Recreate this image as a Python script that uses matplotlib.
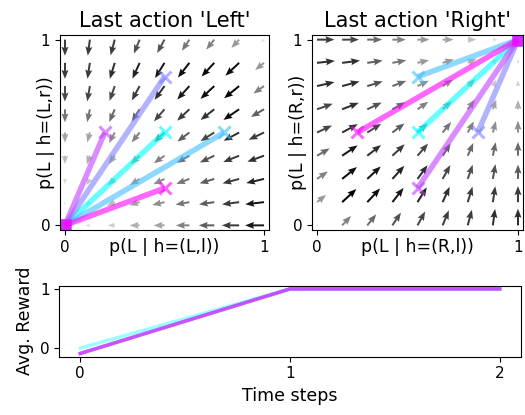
import matplotlib
matplotlib.use('Agg')
import matplotlib.pyplot as plt
import numpy as np

# grid of the two policy planes (9 x 9 arrows)
grid = np.linspace(0, 1, 9)

# arrow directions in degrees, rows listed from top (y=1) to bottom (y=0)
left_angle = [
    [270, 263, 256, 249, 243, 238, 233, 229, 225],
    [270, 262, 254, 247, 240, 234, 229, 225, 221],
    [270, 261, 252, 243, 236, 230, 225, 221, 217],
    [270, 259, 248, 239, 231, 225, 220, 216, 212],
    [270, 256, 243, 233, 225, 219, 214, 210, 207],
    [270, 252, 236, 225, 217, 211, 207, 203, 201],
    [270, 243, 225, 214, 207, 202, 198, 196, 194],
    [270, 225, 207, 198, 194, 191, 189, 188, 187],
    [225, 180, 180, 180, 180, 180, 180, 180, 180],
]
right_angle = [
    [0, 0, 0, 0, 0, 0, 0, 0, 45],
    [7, 8, 9, 11, 14, 18, 27, 45, 90],
    [14, 16, 18, 22, 27, 34, 45, 63, 90],
    [21, 23, 27, 31, 37, 45, 56, 72, 90],
    [27, 30, 34, 39, 45, 53, 63, 76, 90],
    [32, 36, 40, 45, 51, 59, 68, 79, 90],
    [37, 41, 45, 50, 56, 63, 72, 81, 90],
    [41, 45, 49, 54, 60, 67, 74, 82, 90],
    [45, 49, 53, 58, 63, 69, 76, 83, 90],
]

# relative strength of the flow (0 = none, 1 = strongest)
left_mag = [
    [0.75, 0.75, 0.75, 0.65, 0.65, 0.50, 0.45, 0.35, 0.05],
    [0.75, 0.75, 0.80, 0.85, 0.90, 0.95, 0.95, 0.95, 0.35],
    [0.70, 0.70, 0.70, 0.75, 0.80, 0.90, 0.95, 1.00, 0.45],
    [0.50, 0.50, 0.55, 0.60, 0.70, 0.75, 0.80, 0.95, 0.60],
    [0.30, 0.30, 0.40, 0.45, 0.55, 0.60, 0.70, 0.80, 0.75],
    [0.20, 0.25, 0.30, 0.40, 0.45, 0.55, 0.65, 0.75, 0.80],
    [0.08, 0.15, 0.25, 0.35, 0.40, 0.50, 0.60, 0.75, 0.85],
    [0.03, 0.08, 0.20, 0.30, 0.40, 0.50, 0.60, 0.75, 0.90],
    [0.00, 0.05, 0.12, 0.25, 0.30, 0.45, 0.60, 0.75, 0.90],
]
right_mag = [
    [0.75, 0.70, 0.55, 0.45, 0.35, 0.30, 0.18, 0.06, 0.00],
    [0.80, 0.80, 0.60, 0.50, 0.35, 0.35, 0.25, 0.10, 0.05],
    [0.80, 0.80, 0.65, 0.55, 0.40, 0.40, 0.30, 0.15, 0.10],
    [0.70, 0.80, 0.65, 0.55, 0.45, 0.40, 0.40, 0.30, 0.25],
    [0.70, 0.80, 0.70, 0.60, 0.50, 0.50, 0.45, 0.40, 0.40],
    [0.55, 0.90, 0.80, 0.75, 0.70, 0.60, 0.55, 0.55, 0.55],
    [0.45, 0.95, 0.90, 0.85, 0.80, 0.70, 0.65, 0.65, 0.60],
    [0.35, 1.00, 0.95, 0.90, 0.85, 0.80, 0.75, 0.75, 0.75],
    [0.00, 0.45, 0.55, 0.65, 0.70, 0.75, 0.75, 0.80, 0.80],
]

# learning trajectories, time steps 0,1,2
steps = [0, 1, 2]
left_x = [[0.5, 0, 0], [0.8, 0, 0], [0.5, 0, 0], [0.2, 0, 0], [0.5, 0, 0]]
left_y = [[0.5, 0, 0], [0.5, 0, 0], [0.8, 0, 0], [0.5, 0, 0], [0.2, 0, 0]]
right_x = [[0.5, 1, 1], [0.5, 1, 1], [0.8, 1, 1], [0.5, 1, 1], [0.2, 1, 1]]
right_y = [[0.5, 1, 1], [0.8, 1, 1], [0.5, 1, 1], [0.2, 1, 1], [0.5, 1, 1]]
rewards = [[0.0, 1, 1], [-0.09, 1, 1], [-0.09, 1, 1], [-0.09, 1, 1], [-0.09, 1, 1]]

colors = plt.cm.cool(np.linspace(0, 1, len(left_x)))

W, H = 525., 415.
fig = plt.figure(figsize=(W / 100, H / 100), dpi=100)
axL = fig.add_axes([60 / W, 1 - 230 / H, 209 / W, 195 / H])
axR = fig.add_axes([312 / W, 1 - 230 / H, 211 / W, 195 / H])
axB = fig.add_axes([59.3 / W, 1 - 356.7 / H, 461.4 / W, 71 / H])

X, Y = np.meshgrid(grid, grid)


def flow(ax, ang, mag):
    ang = np.radians(np.array(ang)[::-1])
    mag = np.array(mag)[::-1]
    ln = np.sqrt(mag)
    U = ln * np.cos(ang)
    V = ln * np.sin(ang)
    g = 0.92 * (1 - mag.ravel())
    cols = [(c, c, c, 1.0) for c in g]
    ax.quiver(X, Y, U, V, color=cols, pivot='tail', angles='xy',
              scale_units='xy', scale=1 / 0.1, width=0.0095,
              headwidth=3.5, headlength=4.5, headaxislength=4)


def trajs(ax, xs, ys):
    for x, y, c in zip(xs, ys, colors):
        ax.plot(x, y, color=c, lw=4, alpha=0.6, solid_capstyle='butt')
        ax.plot(x[0], y[0], 'x', color=c, ms=9, mew=2.2, alpha=0.6)
        ax.plot(x[-1], y[-1], 's', color=c, ms=9, mec='none', alpha=0.6)


flow(axL, left_angle, left_mag)
trajs(axL, left_x, left_y)
flow(axR, right_angle, right_mag)
trajs(axR, right_x, right_y)

for ax, title, xl, yl in [(axL, "Last action 'Left'", 'p(L | h=(L,l))', 'p(L | h=(L,r))'),
                          (axR, "Last action 'Right'", 'p(L | h=(R,l))', 'p(L | h=(R,r))')]:
    ax.set_xlim(-0.025, 1.025)
    ax.set_ylim(-0.025, 1.025)
    ax.set_xticks([0, 1])
    ax.set_yticks([0, 1])
    ax.tick_params(labelsize=11)
    ax.set_title(title, fontsize=15)
    ax.set_xlabel(xl, fontsize=12.5, labelpad=-12)
    ax.set_ylabel(yl, fontsize=12.5, labelpad=-10)

for r, c in zip(rewards, colors):
    axB.plot(steps, r, color=c, lw=2.5, alpha=0.4)
axB.set_xticks([0, 1, 2])
axB.set_yticks([0, 1])
axB.tick_params(labelsize=11)
axB.set_xlabel('Time steps', fontsize=12.5)
axB.set_ylabel('Avg. Reward', fontsize=12.5)

plt.savefig('out.png', dpi=100)
